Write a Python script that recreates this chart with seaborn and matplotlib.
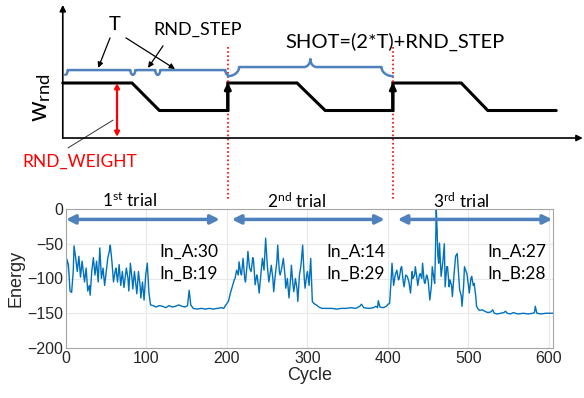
import numpy as np
import matplotlib
matplotlib.use("Agg")
import matplotlib.pyplot as plt
import seaborn as sns


# energy trace (cycle, energy)
cycle = [0, 1, 3, 5, 7, 9, 10, 12, 14, 16, 18, 20, 22, 23, 25, 27, 29, 30, 32, 34,
         36, 38, 40, 42, 44, 46, 48, 50, 52, 54, 55, 57, 59, 61, 62, 64, 66, 68, 70, 72,
         74, 75, 77, 78, 80, 82, 83, 85, 86, 88, 90, 92, 93, 95, 97, 99, 101, 102, 103, 105,
         108, 112, 116, 120, 124, 128, 132, 136, 140, 144, 148, 151, 153, 155, 158, 163, 168, 173, 178, 183,
         188, 193, 196, 198, 200,
         202, 204, 205, 207, 209, 210, 212, 214, 215, 217, 218, 220, 222, 223, 225, 226, 228, 230, 232, 233,
         235, 237, 238, 240, 242, 244, 246, 248, 250, 252, 254, 255, 257, 258, 260, 262, 263, 265, 266, 268,
         270, 272, 273, 275, 277, 279, 280, 282, 283, 285, 287, 288, 290, 292, 294, 296, 297, 299, 300, 302,
         304, 306, 308, 311, 314, 318, 324, 330, 336, 342, 348, 354, 360, 365, 367, 370, 376, 382, 385, 387,
         388, 390, 394, 398, 400, 402,
         404, 405, 407, 409, 411, 413, 414, 416, 417, 419, 420, 422, 424, 426, 428, 430, 431, 433, 434, 436,
         437, 439, 440, 442, 443, 445, 446, 448, 449, 450, 452, 454, 455, 457, 458, 459, 460, 461, 462, 463,
         464, 466, 468, 470, 471, 473, 474, 476, 477, 479, 480, 482, 484, 486, 488, 489, 491, 492, 494, 495,
         497, 498, 500, 501, 503, 504, 506, 507, 509, 510, 512, 514, 517, 520, 524, 528, 530, 532, 536, 540,
         544, 546, 548, 552, 556, 558, 562, 568, 574, 580, 582, 583, 585, 590, 596, 600, 605]
energy = [-112, -72, -80, -118, -120, -90, -53, -70, -90, -68, -98, -75, -95, -105, -85, -118, -110, -124, -90, -70,
          -95, -75, -105, -56, -100, -85, -110, -90, -70, -60, -52, -75, -105, -90, -85, -105, -80, -110, -90, -113,
          -95, -85, -100, -118, -78, -100, -115, -90, -100, -122, -90, -110, -128, -105, -131, -95, -78, -100, -120, -138,
          -139, -141, -139, -140, -142, -139, -141, -140, -138, -140, -141, -139, -117, -138, -143, -144, -143, -144, -143, -144,
          -143, -142, -143, -139, -136,
          -132, -122, -118, -110, -102, -100, -88, -95, -76, -92, -95, -71, -100, -105, -80, -61, -85, -90, -70, -75,
          -109, -95, -100, -121, -95, -71, -88, -42, -80, -105, -90, -81, -100, -119, -95, -75, -52, -90, -95, -85,
          -71, -95, -114, -100, -128, -100, -81, -110, -119, -100, -115, -133, -95, -80, -52, -100, -114, -95, -90, -110,
          -71, -133, -136, -138, -141, -143, -143, -143, -144, -143, -143, -142, -143, -140, -137, -142, -143, -142, -140, -142,
          -132, -141, -142, -140, -137, -136,
          -100, -78, -110, -95, -88, -102, -100, -85, -83, -105, -112, -95, -97, -105, -121, -90, -100, -95, -83, -100,
          -110, -95, -93, -100, -78, -105, -107, -95, -98, -104, -131, -110, -83, -100, -107, -60, -1, -30, -68, -78,
          -49, -97, -78, -50, -112, -83, -83, -112, -102, -110, -126, -95, -68, -64, -100, -116, -125, -140, -110, -83,
          -90, -93, -110, -121, -100, -97, -110, -107, -125, -140, -144, -146, -145, -147, -149, -148, -145, -150, -151, -150,
          -149, -147, -150, -151, -149, -150, -151, -150, -151, -150, -149, -140, -150, -151, -150, -150, -150]

# trial annotations
trial_labels = ["1$^{\\mathregular{st}}$ trial", "2$^{\\mathregular{nd}}$ trial", "3$^{\\mathregular{rd}}$ trial"]
trial_centers = [79, 286, 491]
trial_spans = [(0, 191), (206, 396), (412, 604)]
in_a = [30, 14, 27]
in_b = [19, 29, 28]
in_x = [116, 323, 524]

# schematic of w_rnd (time in cycle units, level 0..2)
wave_t = [-4, 82, 116, 201, 201, 287, 322, 406, 406, 491, 524, 609]
wave_w = [2, 2, 1, 1, 2, 2, 1, 1, 2, 2, 1, 1]
shot_edges = [201, 406]
small_braces = [(-1, 83), (83, 114), (114, 201)]

BLUE = "#4f81bd"
LINE = "#0072BD"

sns.set_theme(style="whitegrid")
plt.rcParams["font.family"] = ["Lato", "DejaVu Sans"]
plt.rcParams["mathtext.fontset"] = "custom"
plt.rcParams["mathtext.rm"] = "Lato"
plt.rcParams["mathtext.it"] = "Lato:italic"

fig = plt.figure(figsize=(5.84, 3.98), dpi=100)
fig.patch.set_facecolor("white")

# ---------------- bottom: energy plot ----------------
ax = fig.add_axes([66 / 584, 1 - 348 / 398, 487 / 584, 139 / 398])
sns.lineplot(x=cycle, y=energy, ax=ax, color=LINE, lw=1.0, sort=False)
ax.set_xlim(0, 605)
ax.set_ylim(-200, 0)
ax.set_xticks(range(0, 601, 100))
ax.set_yticks(range(-200, 1, 50))
ax.set_facecolor("white")
ax.grid(True, color="#e8e8e8", lw=0.8)
for sp in ax.spines.values():
    sp.set_visible(True)
    sp.set_color("#a6a6a6")
    sp.set_linewidth(0.8)
ax.tick_params(axis="both", labelsize=11.5, colors="#262626", length=0, pad=2)
for lab in ax.get_xticklabels() + ax.get_yticklabels():
    lab.set_family("Liberation Sans")
ax.set_xlabel("Cycle", fontsize=13, family="Liberation Sans", color="#262626", labelpad=1)
ax.set_ylabel("Energy", fontsize=13, family="Liberation Sans", color="#262626", labelpad=2)

for (a, b) in trial_spans:
    ax.annotate("", xy=(b, -15), xytext=(a, -15),
                arrowprops=dict(arrowstyle="<|-|>", color=BLUE, lw=2.5, mutation_scale=13,
                                shrinkA=0, shrinkB=0))
for lab, xc in zip(trial_labels, trial_centers):
    ax.text(xc, 11.5, lab, ha="center", va="center", fontsize=12.5, color="black", clip_on=False)
for a, b, xi in zip(in_a, in_b, in_x):
    ax.text(xi, -61, f"In_A:{a}", ha="left", va="center", fontsize=12.5, color="black")
    ax.text(xi, -93, f"In_B:{b}", ha="left", va="center", fontsize=12.5, color="black")

# ---------------- top: schematic ----------------
top = fig.add_axes([0, 1 - 180 / 398, 1, 180 / 398])
top.set_xlim(-82, 643.5)
top.set_ylim(-1.527, 5.018)
top.axis("off")

# axes of the sketch
top.annotate("", xy=(-4, 4.84), xytext=(-4, 0),
             arrowprops=dict(arrowstyle="-|>", color="black", lw=1.2, mutation_scale=9, shrinkA=0, shrinkB=0))
top.annotate("", xy=(642, 0), xytext=(-4, 0),
             arrowprops=dict(arrowstyle="-|>", color="black", lw=1.2, mutation_scale=9, shrinkA=0, shrinkB=0))

top.plot(wave_t, wave_w, color="black", lw=2.2, solid_joinstyle="miter")
for xe in shot_edges:
    top.annotate("", xy=(xe, 2.02), xytext=(xe, 1.0),
                 arrowprops=dict(arrowstyle="-|>", color="black", lw=2.2, mutation_scale=9,
                                 shrinkA=0, shrinkB=0))
    top.plot([xe, xe], [3.31, -2.25], color="red", ls=(0, (1, 1.5)), lw=1.2, clip_on=False)


def brace(ax, x0, x1, y, depth, r, tip=0.0, rt=0.0):
    th = np.linspace(0, np.pi / 2, 20)
    xs = list(x0 + r * np.sin(th))
    ys = list(y - depth * np.cos(th))
    if tip > 0:
        xm = (x0 + x1) / 2
        xs += list(xm - rt + rt * np.sin(th))
        ys += list(y + tip * (1 - np.cos(th)))
        xs += list(xm + rt - rt * np.sin(th[::-1]))
        ys += list(y + tip * (1 - np.cos(th[::-1])))
    xs += list(x1 - r * np.sin(th[::-1]))
    ys += list(y - depth * np.cos(th[::-1]))
    ax.plot(xs, ys, color=BLUE, lw=1.8, solid_capstyle="round")


for a, b in small_braces:
    brace(top, a, b, 2.47, 0.17, 3)
brace(top, 201, 406, 2.58, 0.33, 14, tip=0.29, rt=8)

top.text(61, 4.11, "T", ha="center", va="center", fontsize=14.5, color="black")
top.text(163, 3.93, "RND_STEP", ha="center", va="center", fontsize=13, color="black")
top.text(409, 3.49, "SHOT=(2*T)+RND_STEP", ha="center", va="center", fontsize=14.5, color="black")
top.text(-32, 1.49, "w$_{\\mathregular{rnd}}$", ha="center", va="center", fontsize=19,
         rotation=90, color="black")
top.text(17, -0.87, "RND_WEIGHT", ha="center", va="center", fontsize=12.5, color="red")

arrow_kw = dict(arrowstyle="-|>", color="black", lw=0.9, mutation_scale=8, shrinkA=0, shrinkB=0)
top.annotate("", xy=(40, 2.55), xytext=(54.7, 3.64), arrowprops=arrow_kw)
top.annotate("", xy=(135.4, 2.51), xytext=(74.5, 3.64), arrowprops=arrow_kw)
top.annotate("", xy=(101.9, 2.55), xytext=(120.5, 3.35), arrowprops=arrow_kw)

top.annotate("", xy=(63.4, 2.0), xytext=(63.4, 0.04),
             arrowprops=dict(arrowstyle="<|-|>", color="red", lw=1.6, mutation_scale=7, shrinkA=0, shrinkB=0))
top.plot([58.4, 2.5], [0.65, -0.36], color="#333333", lw=0.7)

fig.savefig("out.png", dpi=100)
